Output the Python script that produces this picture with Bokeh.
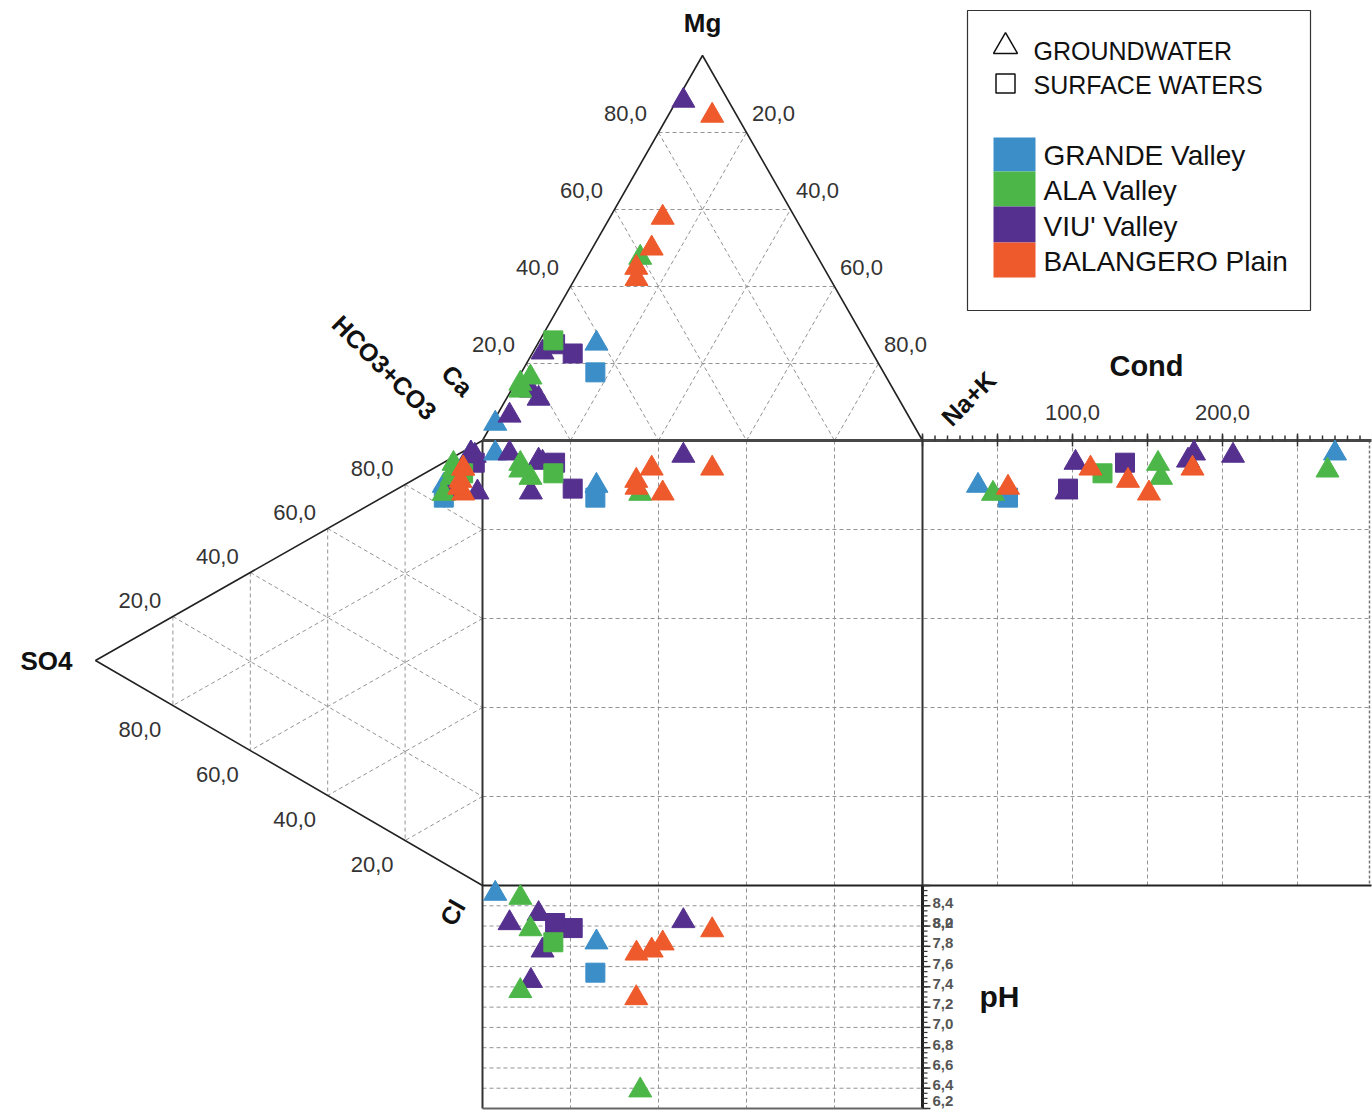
import numpy as np
from bokeh.plotting import figure
from bokeh.models import Range1d, ColumnDataSource
from bokeh.embed import file_html
from bokeh.resources import INLINE
from bokeh.core.properties import value

# ---------------- data ----------------
sites = ["GRANDE Valley", "ALA Valley", "VIU' Valley", "BALANGERO Plain"]
site_colors = ["#3b8ec8", "#4cb748", "#55308e", "#ee5a2b"]

sample_site = (["GRANDE Valley"] * 3 + ["VIU' Valley"] * 7 +
               ["ALA Valley"] * 5 + ["BALANGERO Plain"] * 5)
sample_type = ["GW", "GW", "SW",
               "GW", "GW", "GW", "GW", "GW", "SW", "SW",
               "GW", "GW", "GW", "SW", "GW",
               "GW", "GW", "GW", "GW", "GW"]
# cations (%)
ca = [94.9, 61.5, 65.5, 90.6, 81.8, 74.9, 82.5, 10.2, 68.2, 71.0,
      84.0, 80.9, 84.9, 70.9, 40.4, 5.6, 36.6, 42.6, 30.1, 44.0]
mg = [4.4, 25.2, 17.7, 6.5, 10.9, 22.9, 13.0, 88.3, 22.6, 25.0,
      14.8, 16.4, 13.0, 26.0, 47.5, 84.4, 49.9, 44.9, 57.9, 42.0]
nak = [0.7, 13.3, 16.8, 2.9, 7.3, 2.2, 4.5, 1.5, 9.2, 4.0,
       1.2, 2.7, 2.1, 3.1, 12.1, 10.0, 13.5, 12.5, 12.0, 14.0]
# anions (%)
hco3 = [95.6, 84.8, 82.1, 95.6, 94.0, 93.0, 87.7, 95.6, 85.9, 94.0,
        91.0, 87.6, 89.5, 90.1, 83.0, 91.2, 91.2, 88.1, 85.6, 86.4]
so4 = [3.0, 10.0, 10.0, 3.0, 3.0, 4.0, 1.3, 2.0, 6.5, 2.0,
       7.5, 8.0, 7.5, 5.0, 10.0, 5.0, 5.0, 5.7, 5.0, 6.0]
cl = [1.4, 5.2, 7.9, 1.4, 3.0, 3.0, 11.0, 2.4, 7.6, 4.0,
      1.5, 4.4, 3.0, 4.9, 7.0, 3.8, 3.8, 6.2, 9.4, 7.6]
cond = [275, 37, 57, 181, 177, 102, 96, 207, 97, 135,
        157, 159, 270, 120, 47, 180, 112, 137, 151, 57]
ph = [8.32, 7.84, 7.54, 8.03, 8.12, 7.76, 7.46, 8.05, 7.98, 8.03,
      8.28, 7.97, 7.36, 7.84, 6.38, 7.96, 7.76, 7.29, 7.83, 7.73]

tern_levels = [20, 40, 60, 80]
tern_labels = ["20,0", "40,0", "60,0", "80,0"]
cond_label_vals = [100, 200]
cond_labels = ["100,0", "200,0"]
ph_tick_vals = [6.2, 6.4, 6.6, 6.8, 7.0, 7.2, 7.4, 7.6, 7.8, 8.0, 8.0, 8.2]
ph_tick_labels = ["6,2", "6,4", "6,6", "6,8", "7,0", "7,2", "7,4", "7,6",
                  "7,8", "8,0", "8,2", "8,4"]

# ---------------- geometry of the diagram ----------------
CA_V, NAK_V, MG_V = (482.0, 440.0), (922.0, 440.0), (702.0, 55.0)
HC_V, CL_V, SO_V = (482.0, 440.0), (482.0, 885.0), (95.0, 660.0)
SQ_L, SQ_R, SQ_T, SQ_B = 482.0, 922.0, 440.0, 885.0
COND_X0, COND_PX, COND_MAX = 922.0, 1.5, 298.0
PH_T, PH_B, PH_HI, PH_LO = 885.0, 1108.0, 8.4, 6.2

FONT = "Liberation Sans"


def tern(a, b, c, A, B, C):
    a, b, c = np.asarray(a) / 100.0, np.asarray(b) / 100.0, np.asarray(c) / 100.0
    return a * A[0] + b * B[0] + c * C[0], a * A[1] + b * B[1] + c * C[1]


def cond_x(v):
    return COND_X0 + np.asarray(v, dtype=float) * COND_PX


def ph_y(v):
    return PH_T + (PH_HI - np.asarray(v, dtype=float)) * (PH_B - PH_T) / (PH_HI - PH_LO)


W, H = 1372, 1111
p = figure(width=W, height=H, x_range=Range1d(0, W), y_range=Range1d(H, 0),
           output_backend="svg", toolbar_location=None, min_border=0,
           x_axis_location=None, y_axis_location=None)
p.grid.visible = False
p.outline_line_color = None
p.background_fill_color = "white"
p.border_fill_color = "white"

GRID = dict(line_color="#949494", line_width=1, line_dash="4 3")

# ---- ternary grids ----
def tern_grid(A, B, C):
    x0, y0, x1, y1 = [], [], [], []
    for k in tern_levels:
        r = 100 - k
        for (p0, p1) in [((k, r, 0), (k, 0, r)),
                         ((r, k, 0), (0, k, r)),
                         ((r, 0, k), (0, r, k))]:
            xa, ya = tern(*p0, A, B, C)
            xb, yb = tern(*p1, A, B, C)
            x0.append(float(xa)); y0.append(float(ya))
            x1.append(float(xb)); y1.append(float(yb))
    return x0, y0, x1, y1

for A, B, C in [(CA_V, MG_V, NAK_V), (HC_V, SO_V, CL_V)]:
    gx0, gy0, gx1, gy1 = tern_grid(A, B, C)
    p.segment(gx0, gy0, gx1, gy1, **GRID)

# ---- square / rectangles grids ----
sq_cols = [SQ_L + (SQ_R - SQ_L) * k / 100 for k in tern_levels]
sq_rows = [SQ_T + (SQ_B - SQ_T) * k / 100 for k in tern_levels]
p.segment(sq_cols, [SQ_T] * 4, sq_cols, [PH_B] * 4, **GRID)
p.segment([SQ_L] * 4, sq_rows, [float(cond_x(COND_MAX))] * 4, sq_rows, **GRID)
ph_lines = [6.4, 6.6, 6.8, 7.0, 7.2, 7.4, 7.6, 7.8, 8.0, 8.2]
p.segment([SQ_L] * len(ph_lines), list(ph_y(ph_lines)), [SQ_R] * len(ph_lines),
          list(ph_y(ph_lines)), **GRID)
cmaj = [50, 100, 150, 200, 250]
p.segment(list(cond_x(cmaj)), [SQ_T] * 5, list(cond_x(cmaj)), [SQ_B] * 5, **GRID)
p.segment([float(cond_x(COND_MAX))], [SQ_T], [float(cond_x(COND_MAX))], [SQ_B],
          line_color="#777777", line_width=1.5, line_dash="3 2")

# ---- frame ----
p.line([CA_V[0], MG_V[0], NAK_V[0]], [CA_V[1], MG_V[1], NAK_V[1]],
       line_color="#222222", line_width=1.6)
p.line([HC_V[0], SO_V[0], CL_V[0]], [HC_V[1], SO_V[1], CL_V[1]],
       line_color="#222222", line_width=1.6)
p.segment([SQ_L], [SQ_T], [float(cond_x(COND_MAX)) + 2], [SQ_T],
          line_color="#474747", line_width=3)
p.segment([SQ_L], [SQ_T], [SQ_L], [PH_B], line_color="#333333", line_width=2)
p.segment([SQ_L], [SQ_B], [float(cond_x(COND_MAX)) + 2], [SQ_B],
          line_color="#222222", line_width=2)
p.segment([SQ_R], [SQ_T], [SQ_R], [SQ_B], line_color="#333333", line_width=2)
p.segment([SQ_R], [PH_T], [SQ_R], [PH_B], line_color="#222222", line_width=3)
p.segment([SQ_L], [PH_B], [SQ_R], [PH_B], line_color="#666666", line_width=2)

# cond axis ticks
cminor = np.arange(0, COND_MAX, 50 / 6.0)
p.segment(list(cond_x(cminor)), [SQ_T] * len(cminor), list(cond_x(cminor)),
          [SQ_T - 5] * len(cminor), line_color="#333333", line_width=1.5)
cmajor = [0, 50, 100, 150, 200, 250]
p.segment(list(cond_x(cmajor)), [SQ_T + 6] * 6, list(cond_x(cmajor)), [SQ_T - 7] * 6,
          line_color="#333333", line_width=1.5)
# pH axis ticks
pminor = np.arange(6.2, 8.41, 0.05)
p.segment([SQ_R] * len(pminor), list(ph_y(pminor)), [SQ_R + 5] * len(pminor),
          list(ph_y(pminor)), line_color="#333333", line_width=1.2)
pmajor = np.arange(6.2, 8.41, 0.2)
p.segment([SQ_R] * len(pmajor), list(ph_y(pmajor)), [SQ_R + 8] * len(pmajor),
          list(ph_y(pmajor)), line_color="#333333", line_width=1.5)

# ---- samples ----
color_of = dict(zip(sites, site_colors))
tx, ty = tern(ca, mg, nak, CA_V, MG_V, NAK_V)
lx, ly = tern(hco3, so4, cl, HC_V, SO_V, CL_V)
src = ColumnDataSource(dict(
    tx=tx, ty=ty, lx=lx, ly=ly,
    cx=cond_x(cond), py=ph_y(ph),
    marker=["triangle" if t == "GW" else "square" for t in sample_type],
    size=[23 if t == "GW" else 19 for t in sample_type],
    color=[color_of[s] for s in sample_site],
))
for xc, yc in [("tx", "ty"), ("lx", "ly"), ("tx", "ly"), ("cx", "ly"), ("tx", "py")]:
    p.scatter(x=xc, y=yc, source=src, marker="marker", size="size",
              fill_color="color", line_color="color", line_width=1)

# ---- tick labels ----
TICK = dict(text_font=value(FONT), text_font_size="22px", text_color="#333333",
            text_align="center", text_baseline="middle")
lab_x, lab_y, lab_t = [], [], []
for k, t in zip(tern_levels, tern_labels):
    x, y = tern(100 - k, k, 0, CA_V, MG_V, NAK_V)      # Mg along left edge
    lab_x.append(float(x) - 33); lab_y.append(float(y) - 19); lab_t.append(t)
    x, y = tern(0, 100 - k, k, CA_V, MG_V, NAK_V)      # Na+K along right edge
    lab_x.append(float(x) + 27); lab_y.append(float(y) - 19); lab_t.append(t)
    x, y = tern(k, 100 - k, 0, HC_V, SO_V, CL_V)       # HCO3 along upper edge
    lab_x.append(float(x) - 33); lab_y.append(float(y) - 16); lab_t.append(t)
    x, y = tern(0, k, 100 - k, HC_V, SO_V, CL_V)       # SO4 along lower edge
    lab_x.append(float(x) - 33); lab_y.append(float(y) + 24); lab_t.append(t)
for v, t in zip(cond_label_vals, cond_labels):
    lab_x.append(float(cond_x(v))); lab_y.append(SQ_T - 28); lab_t.append(t)
p.text(x=lab_x, y=lab_y, text=lab_t, **TICK)

ph_lab_y = np.minimum(ph_y(ph_tick_vals) - 3, PH_B - 8)
p.text(x=[SQ_R + 10] * len(ph_tick_vals), y=list(ph_lab_y),
       text=ph_tick_labels, text_font=value(FONT),
       text_font_size="15px", text_font_style="bold", text_color="#555555",
       text_align="left", text_baseline="middle")

# ---- component names ----
NAME = dict(text_font=value(FONT), text_font_style="bold", text_color="#111111",
            text_align="center", text_baseline="middle")
p.text(x=[MG_V[0]], y=[MG_V[1] - 33], text=["Mg"], text_font_size="26px", **NAME)
p.text(x=[1146], y=[365], text=["Cond"], text_font_size="29px", **NAME)
p.text(x=[999], y=[996], text=["pH"], text_font_size="30px", **NAME)
p.text(x=[SO_V[0] - 49], y=[SO_V[1]], text=["SO4"], text_font_size="26px", **NAME)
p.text(x=[NAK_V[0] + 46], y=[NAK_V[1] - 42], text=["Na+K"], angle=[np.pi / 4],
       text_font_size="25px", **NAME)
p.text(x=[CA_V[0] - 25], y=[CA_V[1] - 60], text=["Ca"], angle=[-np.pi / 4],
       text_font_size="25px", **NAME)
p.text(x=[HC_V[0] - 98], y=[HC_V[1] - 73], text=["HCO3+CO3"], angle=[-np.pi / 4],
       text_font_size="25px", **NAME)
p.text(x=[CL_V[0] - 30], y=[CL_V[1] + 27], text=["Cl"], angle=[np.pi / 3],
       text_font_size="25px", **NAME)

# ---- legend ----
p.quad(left=[967], right=[1310], top=[10], bottom=[310], fill_color="white",
       line_color="#333333", line_width=1.2)
p.scatter(x=[1005], y=[46], marker="triangle", size=24, fill_color=None,
          line_color="#111111", line_width=1.5)
p.scatter(x=[1005], y=[83], marker="square", size=19, fill_color=None,
          line_color="#111111", line_width=1.5)
p.text(x=[1033, 1033], y=[50, 84], text=["GROUNDWATER", "SURFACE WATERS"],
       text_font=value(FONT), text_font_size="25px", text_color="#111111",
       text_align="left", text_baseline="middle")
sw_top = [137, 171, 206, 242]
sw_bot = [171, 206, 242, 277]
p.quad(left=[993] * 4, right=[1035] * 4, top=sw_top, bottom=sw_bot,
       fill_color=site_colors, line_color=None)
p.text(x=[1043] * 4, y=[155, 190, 226, 261], text=sites,
       text_font=value(FONT), text_font_size="28px", text_color="#111111",
       text_align="left", text_baseline="middle")

open("out.html", "w").write(file_html(p, INLINE))
